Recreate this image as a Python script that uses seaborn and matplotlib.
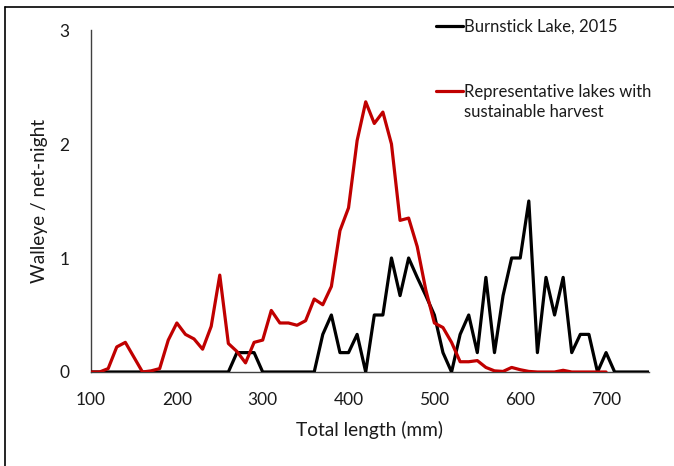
import numpy as np
import pandas as pd
import matplotlib
matplotlib.use("Agg")
import matplotlib.pyplot as plt
from matplotlib.lines import Line2D
import seaborn as sns

# Data
length_black = list(range(100, 760, 10))
burnstick = [0, 0, 0, 0, 0, 0, 0, 0, 0, 0,          # 100-190
             0, 0, 0, 0, 0, 0, 0, 0.17, 0.17, 0.17,  # 200-290
             0, 0, 0, 0, 0, 0, 0, 0.33, 0.5, 0.17,   # 300-390
             0.17, 0.33, 0, 0.5, 0.5, 1.0, 0.67, 1.0, 0.83, 0.67,  # 400-490
             0.5, 0.17, 0, 0.33, 0.5, 0.17, 0.83, 0.17, 0.67, 1.0,  # 500-590
             1.0, 1.5, 0.17, 0.83, 0.5, 0.83, 0.17, 0.33, 0.33, 0,  # 600-690
             0.17, 0, 0, 0, 0, 0]                     # 700-750

length_red = list(range(100, 710, 10))
representative = [0, 0, 0.03, 0.22, 0.26, 0.13, 0, 0.01, 0.03, 0.28,   # 100-190
                  0.43, 0.33, 0.29, 0.2, 0.4, 0.85, 0.25, 0.18, 0.08, 0.26,  # 200-290
                  0.28, 0.54, 0.43, 0.43, 0.41, 0.45, 0.64, 0.59, 0.75, 1.24,  # 300-390
                  1.44, 2.03, 2.37, 2.18, 2.28, 2.0, 1.33, 1.35, 1.1, 0.72,   # 400-490
                  0.43, 0.39, 0.26, 0.09, 0.09, 0.1, 0.04, 0.01, 0.005, 0.04,  # 500-590
                  0.02, 0.005, 0, 0, 0, 0.015, 0, 0, 0, 0,  # 600-690
                  0]                                           # 700

label_black = "Burnstick Lake, 2015"
label_red = "Representative lakes with\nsustainable harvest"

x_ticks = [100, 200, 300, 400, 500, 600, 700]
y_ticks = [0, 1, 2, 3]

sns.set_style("white")
plt.rcParams['font.family'] = ['Lato', 'DejaVu Sans']

fig = plt.figure(figsize=(6.74, 4.66), dpi=100)
ax = fig.add_axes([91/674, 1 - 372/466, (649 - 91)/674, (372 - 30)/466])

df_b = pd.DataFrame({"length": length_black, "value": burnstick})
df_r = pd.DataFrame({"length": length_red, "value": representative})

sns.lineplot(data=df_b, x="length", y="value", ax=ax, color="black", linewidth=2.3,
             label=label_black, zorder=3)
sns.lineplot(data=df_r, x="length", y="value", ax=ax, color="#C00000", linewidth=2.3,
             label=label_red, zorder=4)

ax.set_xlim(100, 750)
ax.set_ylim(0, 3)
ax.set_xticks(list(range(100, 760, 20)), minor=False)
ax.set_xticklabels([str(v) if v in x_ticks else "" for v in range(100, 760, 20)])
ax.set_yticks(y_ticks)
ax.set_yticklabels([str(v) for v in y_ticks])

for s in ["top", "right"]:
    ax.spines[s].set_visible(False)
for s in ["left", "bottom"]:
    ax.spines[s].set_color("#404040")
    ax.spines[s].set_linewidth(1.0)

ax.tick_params(axis="both", which="major", direction="out", length=4.5, width=1,
               color="#404040", labelsize=12.5, labelcolor="#1a1a1a")
ax.tick_params(axis="x", pad=10)
ax.tick_params(axis="y", pad=11)

ax.set_xlabel("Total length (mm)", fontsize=13.8, color="#1a1a1a", labelpad=9)
ax.set_ylabel("Walleye / net-night", fontsize=13.8, color="#1a1a1a", labelpad=8)

leg = ax.legend(loc="upper left", bbox_to_anchor=(436/674, 1 - 19/466),
                bbox_transform=fig.transFigure, frameon=False, fontsize=12,
                handlelength=1.6, handleheight=1.3, handletextpad=0.1,
                labelspacing=2.8, borderpad=0, borderaxespad=0)
for line in leg.get_lines():
    line.set_linewidth(2.3)
for t in leg.get_texts():
    t.set_color("#1a1a1a")
    t.set_linespacing(1.3)
# align handles with the first line of each label
for col in leg._legend_handle_box.get_children():
    for hp in col.get_children():
        hp.align = "top"

# figure border (left and top)
fig.add_artist(Line2D([5/674, 5/674], [0, 1 - 7/466], transform=fig.transFigure,
                      color="black", linewidth=1.2))
fig.add_artist(Line2D([5/674, 1], [1 - 7/466, 1 - 7/466], transform=fig.transFigure,
                      color="black", linewidth=1.2))

fig.savefig("out.png", dpi=100)
